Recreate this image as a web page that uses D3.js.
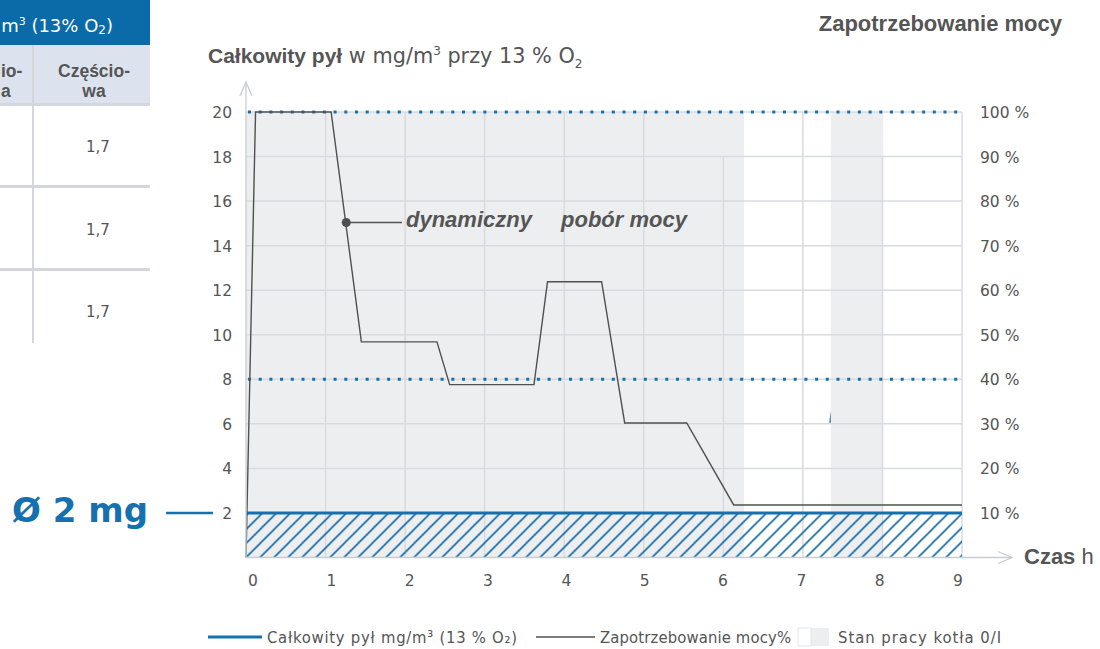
<!DOCTYPE html>
<html><head><meta charset="utf-8">
<script src="https://cdn.jsdelivr.net/npm/d3@7"></script>
<style>body{margin:0;background:#fff}svg{display:block}</style>
</head><body>
<svg id="c" width="1100" height="649"></svg>
<script>
// ---- data ----
const hourTicks = [0,1,2,3,4,5,6,7,8,9];
const dustTicks = [2,4,6,8,10,12,14,16,18,20];
const pctTicks = [10,20,30,40,50,60,70,80,90,100];
const powerHours = [0, 0.12, 1.07, 1.45, 2.40, 2.56, 3.62, 3.79, 4.47, 4.76, 5.54, 6.13, 9];
const powerPct   = [0, 100, 100, 48.4, 48.4, 38.8, 38.8, 61.9, 61.9, 30.2, 30.2, 11.8, 11.8];
const boilerOn = [[0, 6.26], [7.35, 8.01]];
const dustLimit = 2;
const dottedLevels = [20, 8];
const tableValues = ["1,7", "1,7", "1,7"];
const legendItems = ["Całkowity pył mg/m³ (13 % O₂)", "Zapotrzebowanie mocy%", "Stan pracy kotła 0/I"];

const svg = d3.select("#c");
const x = d3.scaleLinear().domain([0, 9]).range([246, 962]);
const xl = d3.scaleLinear().domain([0, 9]).range([253, 958]);
const y = d3.scaleLinear().domain([0, 20]).range([557.5, 112]);
const yp = d3.scaleLinear().domain([0, 100]).range([557.5, 112]);
const grey = "#555", grid = "#d8dbdf", blue = "#1570b0", bg = "#eceef0";
const dv = "'DejaVu Sans', Verdana, sans-serif";
const dvc = "'DejaVu Sans Condensed', 'DejaVu Sans', sans-serif";
const arial = "'Liberation Sans', Arial, sans-serif";

// ---- left table (partial) ----
const tb = svg.append("g");
tb.append("rect").attr("x",0).attr("y",0).attr("width",150).attr("height",45).attr("fill","#0b6aa8");
tb.append("text").attr("x",113).attr("y",32).attr("text-anchor","end").attr("fill","#fff")
  .style("font",`18px ${dv}`).html('m<tspan font-size="11" dy="-7">3</tspan><tspan dy="7"> (13% O</tspan><tspan font-size="12" dy="2">2</tspan><tspan dy="-2">)</tspan>');
tb.append("rect").attr("x",0).attr("y",45).attr("width",150).attr("height",58).attr("fill","#dce3ef");
tb.append("rect").attr("x",0).attr("y",103).attr("width",150).attr("height",3).attr("fill","#d3d6da");
[186, 269].forEach(yy => tb.append("rect").attr("x",0).attr("y",yy-1).attr("width",150).attr("height",3).attr("fill","#d3d6da"));
tb.append("rect").attr("x",32).attr("y",45).attr("width",2).attr("height",298).attr("fill","#d3d6da");
tb.append("text").attr("x",94).attr("y",77).attr("text-anchor","middle").attr("fill",grey).style("font",`bold 17.5px ${arial}`).text("Częścio-");
tb.append("text").attr("x",94).attr("y",97).attr("text-anchor","middle").attr("fill",grey).style("font",`bold 17.5px ${arial}`).text("wa");
tb.append("text").attr("x",1).attr("y",77).attr("text-anchor","start").attr("fill",grey).style("font",`bold 17.5px ${arial}`).text("io-");
tb.append("text").attr("x",1).attr("y",97).attr("text-anchor","start").attr("fill",grey).style("font",`bold 17.5px ${arial}`).text("a");
tableValues.forEach((v,i) => tb.append("text").attr("x",98).attr("y",152+i*82.5).attr("text-anchor","middle")
  .attr("fill",grey).style("font",`15px ${dv}`).text(v));

// ---- boiler state background ----
svg.append("g").selectAll("rect").data(boilerOn).join("rect")
  .attr("x", d => x(d[0])).attr("width", d => x(d[1]) - x(d[0]))
  .attr("y", y(20)).attr("height", y(0) - y(20)).attr("fill", bg);

// ---- grid ----
const g = svg.append("g").attr("stroke", grid).attr("stroke-width", 1.5);
g.selectAll("line.h").data(dustTicks.filter(d => d < 20)).join("line")
  .attr("x1", x(0)).attr("x2", x(9)).attr("y1", d => y(d)).attr("y2", d => y(d));
g.selectAll("line.v").data(hourTicks.filter(d => d > 0)).join("line")
  .attr("x1", d => x(d)).attr("x2", d => x(d))
  .attr("y1", d => (d === 6 || d === 8) ? y(18) : y(20)).attr("y2", y(0));
g.append("line").attr("x1", x(0)).attr("x2", x(9)).attr("y1", y(20)).attr("y2", y(20));

// ---- hatch below dust limit ----
const defs = svg.append("defs");
const pat = defs.append("pattern").attr("id","hatch").attr("patternUnits","userSpaceOnUse")
  .attr("width",14).attr("height",14).attr("x", x(0)).attr("y", y(0));
pat.append("path").attr("d","M-1,15 L15,-1 M-4,4 L4,-4 M10,18 L18,10")
  .attr("stroke", "#126aa8").attr("stroke-width",1.6);
svg.append("rect").attr("x", x(0)).attr("y", y(dustLimit)).attr("width", x(9)-x(0))
  .attr("height", y(0)-y(dustLimit)).attr("fill","url(#hatch)");

// ---- dotted reference lines ----
svg.append("g").selectAll("line").data(dottedLevels).join("line")
  .attr("x1", x(0)+2).attr("x2", x(9)).attr("y1", d => y(d)).attr("y2", d => y(d))
  .attr("stroke", blue).attr("stroke-width", 3).attr("stroke-dasharray", "3,7.7");

// ---- power demand line ----
const pts = powerHours.map((h,i) => [h, powerPct[i]]);
svg.append("path").datum(pts)
  .attr("d", d3.line().x(d => x(d[0])).y(d => yp(d[1])))
  .attr("fill","none").attr("stroke","#505050").attr("stroke-width",1.4);

// ---- dust limit line ----
svg.append("line").attr("x1", x(0)).attr("x2", x(9)).attr("y1", y(dustLimit)).attr("y2", y(dustLimit))
  .attr("stroke", blue).attr("stroke-width", 3);

// small blue artifact
svg.append("path").attr("d", `M${x(7.35)-1.5},${y(6.05)} L${x(7.35)},${y(6.6)} L${x(7.35)},${y(6.05)}Z`).attr("fill", blue);

// ---- axes ----
const ax = svg.append("g").attr("stroke","#c9cdd2").attr("stroke-width",1.3).attr("fill","none");
ax.append("line").attr("x1", x(0)).attr("x2", x(0)).attr("y1", y(0)).attr("y2", 82);
ax.append("path").attr("d", `M${x(0)-6},96 L${x(0)},82 L${x(0)+6},96`);
ax.append("line").attr("x1", x(0)).attr("x2", 1012).attr("y1", y(0)).attr("y2", y(0));
ax.append("path").attr("d", `M998,${y(0)-6} L1012,${y(0)} L998,${y(0)+6}`);

svg.append("g").selectAll("text").data(dustTicks).join("text")
  .attr("x", 232).attr("y", d => y(d)+6).attr("text-anchor","end")
  .attr("fill", grey).style("font", `15.5px ${dv}`).text(d => d);
svg.append("g").selectAll("text").data(pctTicks).join("text")
  .attr("x", 980).attr("y", d => yp(d)+6).attr("text-anchor","start")
  .attr("fill", grey).style("font", `15.5px ${dv}`).text(d => d + " %");
svg.append("g").selectAll("text").data(hourTicks).join("text")
  .attr("x", d => xl(d)).attr("y", 586).attr("text-anchor","middle")
  .attr("fill", grey).style("font", `15.5px ${dv}`).text(d => d);

svg.append("text").attr("x", 1024).attr("y", 564).attr("fill", grey).style("font", `22px ${arial}`)
  .html('<tspan font-weight="bold">Czas</tspan> h');

// ---- titles ----
const t = svg.append("text").attr("x", 208).attr("y", 63).attr("fill", grey);
t.append("tspan").style("font", `bold 21px ${arial}`).text("Całkowity pył");
t.append("tspan").style("font", `20.8px ${dv}`).text(" w mg/m");
t.append("tspan").style("font", `12px ${dv}`).attr("dy", -8).text("3");
t.append("tspan").style("font", `20.8px ${dv}`).attr("dy", 8).text(" przy 13 % O");
t.append("tspan").style("font", `12px ${dv}`).attr("dy", 5).text("2");
svg.append("text").attr("x", 1062).attr("y", 31).attr("text-anchor","end").attr("fill", grey)
  .style("font", `bold 22px ${arial}`).text("Zapotrzebowanie mocy");

// ---- annotation ----
const ann = {h: 1.26, pct: 75.2};
svg.append("line").attr("x1", x(ann.h)).attr("x2", 402).attr("y1", yp(ann.pct)).attr("y2", yp(ann.pct))
  .attr("stroke", "#505050").attr("stroke-width", 1.3);
svg.append("circle").attr("cx", x(ann.h)).attr("cy", yp(ann.pct)).attr("r", 4.5).attr("fill", "#505050");
svg.append("text").attr("x", 406).attr("y", 227).attr("fill", grey)
  .style("font", `italic bold 22px ${arial}`).text("dynamiczny");
svg.append("text").attr("x", 561).attr("y", 227).attr("fill", grey)
  .style("font", `italic bold 22px ${arial}`).text("pobór mocy");

// ---- Ø 2 mg label ----
svg.append("text").attr("x", 12).attr("y", 522).attr("fill", blue)
  .style("font", `bold 34px ${dv}`).text("Ø 2 mg");
svg.append("line").attr("x1", 166).attr("x2", 213).attr("y1", y(dustLimit)).attr("y2", y(dustLimit))
  .attr("stroke", blue).attr("stroke-width", 2.5);

// ---- legend ----
const lg = svg.append("g").style("font", `16.5px ${dvc}`).attr("fill", grey);
lg.append("line").attr("x1",208).attr("x2",262).attr("y1",637).attr("y2",637).attr("stroke",blue).attr("stroke-width",3);
lg.append("text").attr("x",267).attr("y",643).attr("textLength",250).text(legendItems[0]);
lg.append("line").attr("x1",536).attr("x2",595).attr("y1",637).attr("y2",637).attr("stroke","#505050").attr("stroke-width",1.3);
lg.append("text").attr("x",600).attr("y",643).attr("textLength",191).text(legendItems[1]);
lg.append("rect").attr("x",798).attr("y",628).attr("width",31).attr("height",18).attr("fill",bg);
lg.append("rect").attr("x",798).attr("y",628).attr("width",13).attr("height",18).attr("fill","#fff").attr("stroke","#e3e5e8");
lg.append("text").attr("x",838).attr("y",643).attr("textLength",163).text(legendItems[2]);
</script>
</body></html>
